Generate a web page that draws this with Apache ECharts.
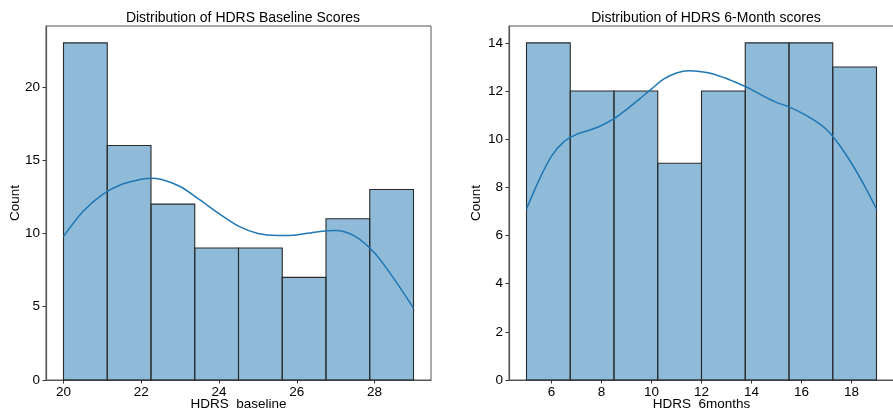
<!DOCTYPE html>
<html><head><meta charset="utf-8">
<script src="https://cdn.jsdelivr.net/npm/echarts@6/dist/echarts.min.js"></script>
<style>html,body{margin:0;padding:0;background:#fff}#c{width:893px;height:410px}</style>
</head><body><div id="c"></div>
<script>
// ---- data ----
const baselineBinStart = 20, baselineBinWidth = 1.125;
const baselineCounts = [23, 16, 12, 9, 9, 7, 11, 13];
const baselineKdeX = [20, 20.5, 21, 21.5, 22, 22.25, 22.5, 23, 23.5, 24, 24.5, 25, 25.5, 26, 26.5, 27, 27.5, 28, 28.5, 29];
const baselineKdeY = [9.8, 11.5, 12.65, 13.35, 13.7, 13.77, 13.7, 13.2, 12.3, 11.35, 10.5, 10.0, 9.86, 9.9, 10.1, 10.2, 9.8, 8.66, 6.9, 4.9];
const baselineXTicks = [20, 22, 24, 26, 28];
const baselineYTicks = [0, 5, 10, 15, 20];

const sixBinStart = 5, sixBinWidth = 1.75;
const sixCounts = [14, 12, 12, 9, 12, 14, 14, 13];
const sixKdeX = [5, 5.5, 6, 6.5, 7, 7.5, 8, 8.5, 9, 9.5, 10, 10.5, 11, 11.5, 12, 12.5, 13, 13.5, 14, 14.5, 15, 15.5, 16, 16.5, 17, 17.5, 18, 18.5, 19];
const sixKdeY = [7.1, 8.3, 9.3, 9.9, 10.2, 10.37, 10.57, 10.85, 11.23, 11.65, 12.09, 12.5, 12.75, 12.84, 12.8, 12.7, 12.52, 12.3, 12.06, 11.78, 11.53, 11.34, 11.09, 10.79, 10.4, 9.78, 9.0, 8.1, 7.1];
const sixXTicks = [6, 8, 10, 12, 14, 16, 18];
const sixYTicks = [0, 2, 4, 6, 8, 10, 12, 14];

// ---- build ----
function bins(start, width, counts) {
  return counts.map((c, i) => [start + i * width, start + (i + 1) * width, c]);
}
const FONT = 'Liberation Sans';
const chart = echarts.init(document.getElementById('c'), null, {renderer: 'canvas'});

function renderBar(params, api) {
  const p0 = api.coord([api.value(0), api.value(2)]);
  const p1 = api.coord([api.value(1), 0]);
  return {
    type: 'rect',
    shape: {x: p0[0], y: p0[1], width: p1[0] - p0[0], height: p1[1] - p0[1]},
    style: {fill: 'rgba(31,119,180,0.5)', stroke: '#2a2a2a', lineWidth: 1.1}
  };
}
function xAxis(idx, min, max, ticks, name) {
  return {
    gridIndex: idx, type: 'value', min: min, max: max,
    name: name, nameLocation: 'middle', nameGap: 17, nameMoveOverlap: false,
    nameTextStyle: {fontFamily: FONT, fontSize: 13.5, color: '#000', verticalAlign: 'top'},
    axisLine: {show: true, onZero: false, lineStyle: {color: '#555', width: 1.2}},
    axisTick: {show: true, length: 3.5, customValues: ticks, lineStyle: {color: '#333'}},
    axisLabel: {customValues: ticks, fontFamily: FONT, fontSize: 13.5, color: '#000', margin: 5},
    splitLine: {show: false}
  };
}
function yAxis(idx, max, ticks, gap) {
  return {
    gridIndex: idx, type: 'value', min: 0, max: max,
    name: 'Count', nameLocation: 'middle', nameGap: gap, nameMoveOverlap: false,
    nameTextStyle: {fontFamily: FONT, fontSize: 13.5, color: '#000'},
    axisLine: {show: true, lineStyle: {color: '#555', width: 1.2}},
    axisTick: {show: true, length: 3.5, customValues: ticks, lineStyle: {color: '#333'}},
    axisLabel: {customValues: ticks, fontFamily: FONT, fontSize: 13.5, color: '#000', margin: 6},
    splitLine: {show: false}
  };
}

chart.setOption({
  animation: false,
  backgroundColor: '#fff',
  title: [
    {text: 'Distribution of HDRS Baseline Scores', left: 238, top: 6, textAlign: 'center',
     textStyle: {fontFamily: FONT, fontSize: 14, fontWeight: 'normal', color: '#000'}},
    {text: 'Distribution of HDRS 6-Month scores', left: 701, top: 6, textAlign: 'center',
     textStyle: {fontFamily: FONT, fontSize: 14, fontWeight: 'normal', color: '#000'}}
  ],
  grid: [
    {left: 46, top: 26, right: 462, bottom: 30, outerBoundsMode: 'none', containLabel: false,
     show: true, borderColor: '#555', borderWidth: 1, backgroundColor: 'transparent'},
    {left: 509, top: 26, right: -1, bottom: 30, outerBoundsMode: 'none', containLabel: false,
     show: true, borderColor: '#555', borderWidth: 1, backgroundColor: 'transparent'}
  ],
  xAxis: [
    xAxis(0, 19.55, 29.45, baselineXTicks, 'HDRS_baseline'),
    xAxis(1, 4.3, 19.7, sixXTicks, 'HDRS_6months')
  ],
  yAxis: [
    yAxis(0, 24.15, baselineYTicks, 24),
    yAxis(1, 14.7, sixYTicks, 26)
  ],
  series: [
    {type: 'custom', xAxisIndex: 0, yAxisIndex: 0, renderItem: renderBar,
     data: bins(baselineBinStart, baselineBinWidth, baselineCounts), encode: {x: [0, 1], y: 2}},
    {type: 'line', xAxisIndex: 0, yAxisIndex: 0, smooth: 0.3, showSymbol: false,
     lineStyle: {color: '#1f77b4', width: 1.5}, z: 5,
     data: baselineKdeX.map((x, i) => [x, baselineKdeY[i]])},
    {type: 'custom', xAxisIndex: 1, yAxisIndex: 1, renderItem: renderBar,
     data: bins(sixBinStart, sixBinWidth, sixCounts), encode: {x: [0, 1], y: 2}},
    {type: 'line', xAxisIndex: 1, yAxisIndex: 1, smooth: 0.3, showSymbol: false,
     lineStyle: {color: '#1f77b4', width: 1.5}, z: 5,
     data: sixKdeX.map((x, i) => [x, sixKdeY[i]])}
  ]
});
</script></body></html>
